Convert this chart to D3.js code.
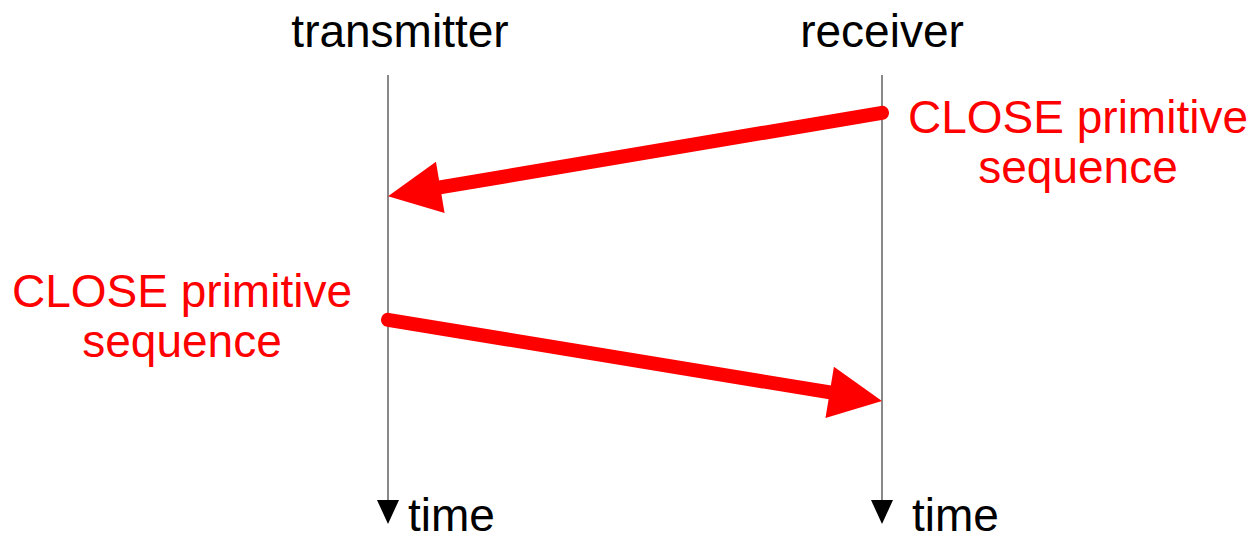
<!DOCTYPE html>
<html><head><meta charset="utf-8">
<script src="https://cdnjs.cloudflare.com/ajax/libs/d3/7.8.5/d3.min.js"></script>
<style>body{margin:0;background:#fff}svg{display:block}text{font-family:Arial,"Liberation Sans",sans-serif}</style>
</head><body><svg id="c" width="1251" height="541"></svg>
<script>
// participants (lifelines)
const participants = ["transmitter", "receiver"];
// messages: sender, receiver, send time, arrival time (time units, 0 = top of lifeline)
const msgFrom = ["receiver", "transmitter"];
const msgTo = ["transmitter", "receiver"];
const msgSend = [8.9, 57.6];
const msgArrive = [28.5, 76.7];
// labels for each message (two lines), placed at the sender side
const msgLabel = [["CLOSE primitive", "sequence"], ["CLOSE primitive", "sequence"]];
const axisLabel = "time";

const svg = d3.select("#c");
const x = d3.scalePoint().domain(participants).range([388, 882]);
const y = d3.scaleLinear().domain([0, 100]).range([75, 500]);
const red = "#ff0000";
const fs = 46;

// lifelines
participants.forEach((p, i) => {
  const px = x(p);
  svg.append("line").attr("x1", px).attr("x2", px).attr("y1", y(0)).attr("y2", y(100) + 2)
    .attr("stroke", "#6b6b6b").attr("stroke-width", 1.6);
  svg.append("path")
    .attr("d", `M${px - 11},${y(100)} L${px + 11},${y(100)} L${px},${y(100) + 24} Z`)
    .attr("fill", "#000");
  svg.append("text").attr("x", px + (i === 0 ? 20 : 30)).attr("y", 531).attr("font-size", fs).text(axisLabel);
  svg.append("text").attr("x", px + 12 * (i === 0 ? 1 : 0)).attr("y", 47).attr("text-anchor", "middle")
    .attr("font-size", fs).text(p);
});

// messages
msgFrom.forEach((f, i) => {
  const x0 = x(f), y0 = y(msgSend[i]);
  const x1 = x(msgTo[i]), y1 = y(msgArrive[i]);
  const dx = x1 - x0, dy = y1 - y0, L = Math.hypot(dx, dy);
  const ux = dx / L, uy = dy / L;
  const headLen = 53, headHalf = 26;
  const bx = x1 - ux * headLen, by = y1 - uy * headLen;
  svg.append("line").attr("x1", x0).attr("y1", y0).attr("x2", bx + ux * 2).attr("y2", by + uy * 2)
    .attr("stroke", red).attr("stroke-width", 14).attr("stroke-linecap", "round");
  svg.append("path")
    .attr("d", `M${x1},${y1} L${bx - uy * headHalf},${by + ux * headHalf} L${bx + uy * headHalf},${by - ux * headHalf} Z`)
    .attr("fill", red);
  // label
  const isRight = x0 > x1;
  const cx = isRight ? x0 + 196 : x0 - 206;
  const baseY = isRight ? y0 + 20 : y0 - 13;
  msgLabel[i].forEach((t, k) => {
    svg.append("text").attr("x", cx).attr("y", baseY + k * 50).attr("text-anchor", "middle")
      .attr("font-size", fs).attr("fill", red).text(t);
  });
});
</script></body></html>
